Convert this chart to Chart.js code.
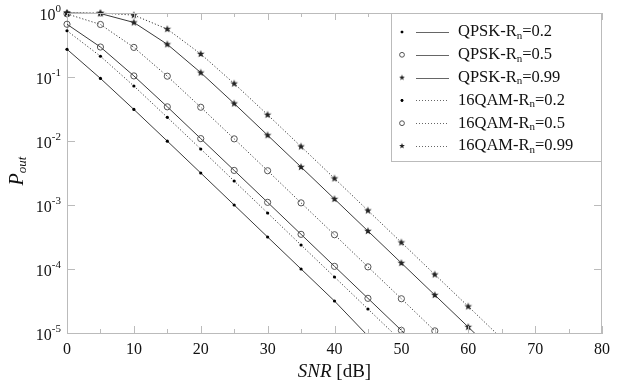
<!DOCTYPE html>
<html><head><meta charset="utf-8">
<script src="https://cdn.jsdelivr.net/npm/chart.js@4/dist/chart.umd.min.js"></script>
<style>html,body{margin:0;padding:0;background:#fff;}#wrap{width:620px;height:382px;position:relative;}</style>
</head><body><div id="wrap"><canvas id="c" width="620" height="382"></canvas></div>
<script>
// ---- data ----
const snrDb = [0, 5, 10, 15, 20, 25, 30, 35, 40, 45, 50, 55, 60, 65];
const modulations = ['QPSK', 'QPSK', 'QPSK', '16QAM', '16QAM', '16QAM'];
const rates = ['0.2', '0.5', '0.99', '0.2', '0.5', '0.99'];
const qpsk02  = [0.271, 0.095, 0.0311, 0.00995, 0.00316, 0.001, 3.16e-4, 1.0e-4, 3.16e-5, 9e-6];
const qpsk05  = [0.667, 0.294, 0.104, 0.0342, 0.0109, 0.00347, 0.0011, 3.48e-4, 1.1e-4, 3.48e-5, 1.1e-5, 3.5e-6];
const qpsk099 = [1.0, 0.98, 0.711, 0.324, 0.117, 0.0385, 0.0123, 0.00392, 0.00124, 3.92e-4, 1.24e-4, 3.92e-5, 1.24e-5, 3.9e-6];
const qam02   = [0.528, 0.211, 0.0723, 0.0234, 0.0075, 0.00237, 7.5e-4, 2.37e-4, 7.5e-5, 2.37e-5, 7.5e-6];
const qam05   = [0.968, 0.662, 0.290, 0.103, 0.0337, 0.0108, 0.00343, 0.00108, 3.43e-4, 1.08e-4, 3.43e-5, 1.08e-5, 3.4e-6];
const qam099  = [1.0, 1.0, 0.926, 0.560, 0.229, 0.0789, 0.0257, 0.00819, 0.0026, 8.2e-4, 2.6e-4, 8.2e-5, 2.6e-5, 8.2e-6];
const xTicks = [0, 10, 20, 30, 40, 50, 60, 70, 80];
const yTickExponents = [0, -1, -2, -3, -4, -5];
const seriesValues = [qpsk02, qpsk05, qpsk099, qam02, qam05, qam099];

// ---- styling ----
const SERIF = '"Liberation Serif", "Times New Roman", serif';
const LINE = '#3a3a3a';
const FRAME = '#bbb';
function makeStar(r, color) {
  const size = Math.ceil(r * 2 + 2);
  const c = document.createElement('canvas');
  c.width = c.height = size;
  const g = c.getContext('2d');
  g.fillStyle = color;
  g.beginPath();
  for (let i = 0; i < 10; i++) {
    const a = -Math.PI / 2 + i * Math.PI / 5;
    const rr = i % 2 ? r * 0.42 : r;
    g.lineTo(size / 2 + rr * Math.cos(a), size / 2 + rr * Math.sin(a));
  }
  g.closePath(); g.fill();
  return c;
}
const markerKinds = ['dot', 'ring', 'star', 'dot', 'ring', 'star'];
const dashed = [false, false, false, true, true, true];
function markerStyle(kind, legend) {
  if (kind === 'dot') return { pointStyle: 'circle', pointRadius: legend ? 1.3 : 1.6, pointBackgroundColor: '#000', pointBorderColor: '#000', pointBorderWidth: 0 };
  if (kind === 'ring') return { pointStyle: 'circle', pointRadius: legend ? 2.4 : 3.1, pointBackgroundColor: 'rgba(0,0,0,0)', pointBorderColor: '#555', pointBorderWidth: 1 };
  return { pointStyle: makeStar(legend ? 3 : 4, '#222'), pointRadius: 4 };
}

const datasets = seriesValues.map((vals, i) => Object.assign({
  label: modulations[i] + '-R\u2099=' + rates[i],
  data: vals.map((v, k) => ({ x: snrDb[k], y: v })),
  borderColor: LINE,
  borderWidth: 1,
  borderDash: dashed[i] ? [1.2, 2] : [],
  tension: 0,
  fill: false,
  clip: { left: 8, top: 8, right: 8, bottom: 0 }
}, markerStyle(markerKinds[i], false)));

function drawRich(ctx, parts, x, y, align) {
  let total = 0;
  parts.forEach(p => { ctx.font = p.font; p.w = ctx.measureText(p.t).width; total += p.w; });
  let cx = align === 'right' ? x - total : align === 'center' ? x - total / 2 : x;
  ctx.textAlign = 'left';
  ctx.textBaseline = 'middle';
  parts.forEach(p => { ctx.font = p.font; ctx.fillText(p.t, cx, y + (p.dy || 0)); cx += p.w; });
}

const decor = {
  id: 'decor',
  afterDatasetsDraw(chart) {
    const ctx = chart.ctx, a = chart.chartArea;
    const xs = chart.scales.x, ys = chart.scales.y;
    ctx.save();
    ctx.strokeStyle = FRAME; ctx.lineWidth = 1;
    ctx.beginPath();
    ctx.moveTo(a.left, a.top + 0.5); ctx.lineTo(a.right, a.top + 0.5);
    ctx.moveTo(a.right - 0.5, a.top); ctx.lineTo(a.right - 0.5, a.bottom);
    for (let v = 0; v <= 80; v += 5) {
      const px = Math.round(xs.getPixelForValue(v)) + 0.5;
      const len = v % 10 === 0 ? 7 : 4;
      ctx.moveTo(px, a.bottom); ctx.lineTo(px, a.bottom - len);
      ctx.moveTo(px, a.top); ctx.lineTo(px, a.top + len);
    }
    yTickExponents.forEach(e => {
      const py = Math.round(ys.getPixelForValue(Math.pow(10, e))) + 0.5;
      ctx.moveTo(a.left, py); ctx.lineTo(a.left + 8, py);
      ctx.moveTo(a.right, py); ctx.lineTo(a.right - 8, py);
    });
    ctx.stroke();
    ctx.restore();
  },
  afterDraw(chart) {
    const ctx = chart.ctx, a = chart.chartArea;
    const ys = chart.scales.y;
    ctx.save();
    ctx.fillStyle = '#111';
    yTickExponents.forEach(e => {
      const py = ys.getPixelForValue(Math.pow(10, e));
      drawRich(ctx, [
        { t: '10', font: '16px ' + SERIF },
        { t: e === 0 ? '0' : '-' + Math.abs(e), font: '11px ' + SERIF, dy: -7 }
      ], a.left - 6, py + 3, 'right');
    });
    drawRich(ctx, [
      { t: 'SNR', font: 'italic 19px ' + SERIF },
      { t: ' [dB]', font: '19px ' + SERIF }
    ], (a.left + a.right) / 2, 372, 'center');
    ctx.save();
    ctx.translate(18, 171);
    ctx.rotate(-Math.PI / 2);
    drawRich(ctx, [
      { t: 'P', font: 'italic 20px ' + SERIF },
      { t: 'out', font: 'italic 13px ' + SERIF, dy: 5 }
    ], 0, 0, 'center');
    ctx.restore();

    const bx = 391.5, by = a.top + 0.5, bw = a.right - 0.5 - bx, bh = 148;
    ctx.fillStyle = '#fff';
    ctx.fillRect(bx, by, bw, bh);
    ctx.strokeStyle = FRAME; ctx.lineWidth = 1;
    ctx.strokeRect(bx, by, bw, bh);
    chart.data.datasets.forEach((ds, i) => {
      const ry = 32 + i * 22.8;
      ctx.save();
      ctx.strokeStyle = '#666'; ctx.lineWidth = 1;
      ctx.setLineDash(dashed[i] ? [1, 2] : []);
      ctx.beginPath(); ctx.moveTo(416, Math.round(ry) + 0.5); ctx.lineTo(449, Math.round(ry) + 0.5); ctx.stroke();
      ctx.restore();
      const m = markerStyle(markerKinds[i], true);
      ctx.save();
      ctx.fillStyle = m.pointBackgroundColor || '#000';
      ctx.strokeStyle = m.pointBorderColor || '#000';
      Chart.helpers.drawPoint(ctx, { pointStyle: m.pointStyle, radius: m.pointRadius, borderWidth: m.pointBorderWidth || 0, rotation: 0 }, 402, ry);
      if (markerKinds[i] === 'dot') { ctx.beginPath(); ctx.arc(402, ry, m.pointRadius, 0, Math.PI * 2); ctx.fill(); }
      ctx.restore();
      ctx.fillStyle = '#111';
      drawRich(ctx, [
        { t: modulations[i] + '-R', font: '16.5px ' + SERIF },
        { t: 'n', font: '11px ' + SERIF, dy: 4 },
        { t: '=' + rates[i], font: '16.5px ' + SERIF }
      ], 458, ry, 'left');
    });
    ctx.restore();
  }
};

new Chart(document.getElementById('c'), {
  type: 'line',
  data: { datasets },
  options: {
    responsive: false,
    animation: false,
    devicePixelRatio: 1,
    layout: { padding: { top: 13, right: 18, left: 0, bottom: 0 } },
    plugins: { legend: { display: false }, tooltip: { enabled: false } },
    scales: {
      x: {
        type: 'linear', min: 0, max: 80,
        grid: { display: false, drawTicks: false },
        border: { display: true, color: FRAME, width: 1 },
        afterBuildTicks: s => { s.ticks = xTicks.map(v => ({ value: v })); },
        ticks: { color: '#111', font: { family: SERIF, size: 16 }, padding: 7, maxRotation: 0, autoSkip: false },
        afterFit: s => { s.height = 49; }
      },
      y: {
        type: 'logarithmic', min: 1e-5, max: 1,
        grid: { display: false, drawTicks: false },
        border: { display: true, color: FRAME, width: 1 },
        ticks: { display: false },
        afterFit: s => { s.width = 67; }
      }
    }
  },
  plugins: [decor]
});
</script>
</body></html>
